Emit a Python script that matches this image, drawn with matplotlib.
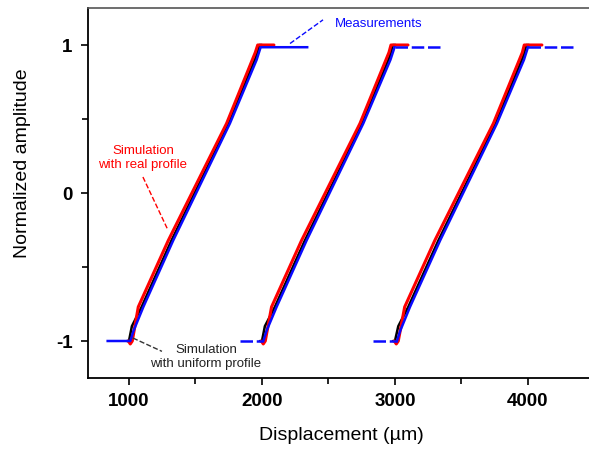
import numpy as np
import matplotlib.pyplot as plt

plt.rcParams['font.family'] = ['Liberation Sans', 'DejaVu Sans']
plt.rcParams['axes.unicode_minus'] = False

# -- Data --
# measurements, three ramps
meas_x1 = [840, 1010, 1035, 1108, 1333, 1759, 1960, 1990, 2340]
meas_x2 = [1835, 2010, 2035, 2110, 2336, 2762, 2966, 2997, 3345]
meas_x3 = [2835, 3015, 3040, 3113, 3340, 3767, 3970, 4000, 4340]
meas_y = [-1.0, -1.0, -0.93, -0.77, -0.32, 0.47, 0.9, 0.985, 0.985]

# simulation with real profile
real_x1 = [995, 1010, 1025, 1070, 1296, 1734, 1950, 1968, 2090]
real_x2 = [1995, 2010, 2025, 2072, 2298, 2737, 2955, 2970, 3098]
real_x3 = [2995, 3010, 3025, 3073, 3300, 3740, 3958, 3972, 4105]
real_y = [-1.0, -1.02, -1.0, -0.77, -0.32, 0.47, 0.95, 1.0, 1.0]

# simulation with uniform profile
unif_x1 = [985, 1000, 1022, 1095, 1320, 1750, 1955, 1980, 2000]
unif_x2 = [1985, 2000, 2022, 2097, 2323, 2753, 2960, 2985, 3005]
unif_x3 = [2985, 3000, 3025, 3100, 3327, 3757, 3963, 3988, 4008]
unif_y = [-1.0, -1.0, -0.9, -0.77, -0.32, 0.47, 0.92, 1.0, 1.0]

# -- Plotting --
fig = plt.figure(figsize=(5.89, 4.54), dpi=100)
ax = fig.add_axes([88/589, 1-378/454, 1-88/589, 370/454])

for ux in (unif_x1, unif_x2, unif_x3):
    ax.plot(ux, unif_y, color='black', lw=1.8, solid_capstyle='round')
for rx in (real_x1, real_x2, real_x3):
    ax.plot(rx, real_y, color='#ff0000', lw=2.2, solid_capstyle='round')

ax.plot(meas_x1, meas_y, color='#0a0aff', lw=1.8)
for mx in (meas_x2, meas_x3):
    # ramp part solid, the flat parts look sparse / dashed
    ax.plot(mx[1:-1], meas_y[1:-1], color='#0a0aff', lw=1.8)
    ax.plot(mx[:2], meas_y[:2], color='#0a0aff', lw=1.8, dashes=(5, 1.5))
    ax.plot(mx[-2:], meas_y[-2:], color='#0a0aff', lw=1.8, dashes=(5, 1.5))

# -- Annotations --
ax.plot([2211, 2459], [1.01, 1.17], color='#0a0aff', lw=1, ls='--')
ax.text(2549, 1.14, "Measurements", color='#0a0aff', fontsize=9.5,
        ha='left', va='center')

ax.plot([1105, 1293], [0.108, -0.25], color='#ff0000', lw=1, ls='--')
ax.text(1105, 0.236, "Simulation\nwith real profile", color='#ff0000',
        fontsize=9.5, ha='center', va='center', linespacing=1.15)

ax.plot([1030, 1248], [-0.98, -1.07], color='#333333', lw=1, ls='--')
ax.text(1579, -1.108, "Simulation\nwith uniform profile", color='#222222',
        fontsize=9.5, ha='center', va='center', linespacing=1.15)

# -- Axes --
ax.set_xlim(692, 4459)
ax.set_ylim(-1.25, 1.25)
ax.set_xticks([1000, 2000, 3000, 4000])
ax.set_xticks([1500, 2500, 3500], minor=True)
ax.set_yticks([-1, 0, 1])
ax.set_yticks([-0.5, 0.5], minor=True)
ax.tick_params(which='major', direction='out', length=5, width=1.2,
               labelsize=13.5, pad=6)
ax.tick_params(which='minor', direction='out', length=4, width=1.2)
for lab in ax.get_xticklabels() + ax.get_yticklabels():
    lab.set_fontweight('bold')

ax.spines['right'].set_visible(False)
ax.spines['left'].set_linewidth(1.3)
ax.spines['bottom'].set_linewidth(1.3)
ax.spines['top'].set_linewidth(1.2)
ax.spines['top'].set_color('#555555')

fig.text(341/589, 1-435/454, "Displacement (\u00b5m)", fontsize=14,
         ha='center', va='center')
fig.text(23/589, 1-163/454, "Normalized amplitude", fontsize=14,
         rotation=90, ha='center', va='center')

fig.savefig('out.png', dpi=100)
